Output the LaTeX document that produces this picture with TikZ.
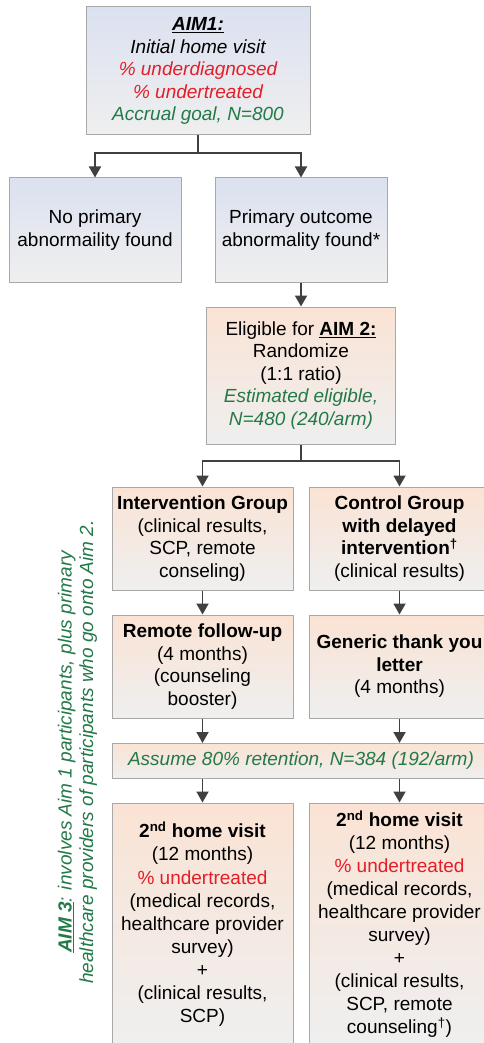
\documentclass[tikz,border=0pt]{standalone}
\usepackage{fontspec}
\setmainfont{Liberation Sans}
\usepackage{xcolor}
\usetikzlibrary{arrows.meta}
\definecolor{TopBlue}{RGB}{219, 225, 240}
\definecolor{TopPeach}{RGB}{250, 227, 212}
\definecolor{BotGrey}{RGB}{239, 239, 239}
\definecolor{EdgeGrey}{RGB}{168, 168, 168}
\definecolor{ArrowGrey}{RGB}{64, 64, 64}
\definecolor{AimGreen}{RGB}{35, 122, 72}
\definecolor{AimRed}{RGB}{228, 30, 40}

\begin{document}
\begin{tikzpicture}[x=1pt, y=-1pt, font=\fontsize{19}{22.5}\selectfont, box/.style={draw=EdgeGrey, line width=1pt, align=center, inner sep=2pt, top color=TopBlue, bottom color=BotGrey},
  armbox/.style={box, top color=TopPeach, minimum width=181pt}, ar/.style={-{Triangle[length=11pt, width=12pt]}, ArrowGrey, line width=1.8pt},
  note/.style={text=AimGreen, font=\fontsize{19}{21.5}\selectfont\itshape, align=center}]
\useasboundingbox (0,0) rectangle (484,1043);
\fill[white] (0,0) rectangle (484,1043);
\clip (0,0) rectangle (484,1043);
\node[box, minimum width=224pt, minimum height=128pt, font=\fontsize{19}{22.5}\selectfont\itshape] (aim1) at (198,71) {\textbf{\underline{AIM1:}}\\Initial home visit\\\textcolor{AimRed}{\% underdiagnosed}\\\textcolor{AimRed}{\% undertreated}\\\textcolor{AimGreen}{Accrual goal, N=800}};
\node[box, minimum width=172pt, minimum height=104pt] (none) at (95,230) {No primary\\abnormaility found};
\node[box, minimum width=172pt, minimum height=104pt] (found) at (301,230) {Primary outcome\\abnormality found*};
\node[armbox, minimum width=189pt, minimum height=137pt] (elig) at (301,375.5) {Eligible for \textbf{\underline{AIM 2:}}\\Randomize\\(1:1 ratio)\\\textcolor{AimGreen}{\itshape Estimated eligible,}\\\textcolor{AimGreen}{\itshape N=480 (240/arm)}};
\node[armbox, minimum height=103pt] (interv) at (202.5,538.5) {\textbf{Intervention Group}\\(clinical results,\\SCP, remote\\conseling)};
\node[armbox, minimum height=103pt] (control) at (399.5,538.5) {\textbf{Control Group}\\\textbf{with delayed}\\\textbf{intervention}\textsuperscript{\textbf{\dag}}\\(clinical results)};
\node[armbox, minimum height=103pt] (remote) at (202.5,666.5) {\textbf{Remote follow-up}\\(4 months)\\(counseling\\booster)};
\node[armbox, minimum height=103pt] (thanks) at (399.5,666.5) {\textbf{Generic thank you}\\\textbf{letter}\\(4 months)};
\node[armbox, minimum width=378pt, minimum height=35pt] (retain) at (301,761) {\textcolor{AimGreen}{\itshape Assume 80\% retention, N=384 (192/arm)}};
\node[armbox, minimum height=242pt, font=\fontsize{19}{23}\selectfont] (visit1) at (202.5,924) {\textbf{2\textsuperscript{nd} home visit}\\(12 months)\\\textcolor{AimRed}{\% undertreated}\\(medical records,\\healthcare provider\\survey)\\+\\(clinical results,\\SCP)};
\node[armbox, minimum height=242pt, font=\fontsize{19}{23}\selectfont] (visit2) at (399.5,924) {\textbf{2\textsuperscript{nd} home visit}\\(12 months)\\\textcolor{AimRed}{\% undertreated}\\(medical records,\\healthcare provider\\survey)\\+\\(clinical results,\\SCP, remote\\counseling\textsuperscript{\dag})};
\node[note, rotate=90] (aim3) at (77.5,752) {\textbf{\underline{AIM 3}}: involves Aim 1 participants, plus primary\\healthcare providers of participants who go onto Aim 2.};
\coordinate (split1) at (198,153);
\coordinate (split2) at (301,461);
\draw[ArrowGrey, line width=1.8pt] (aim1.south) -- (split1);
\draw[ar] (split1) -| (none.north); \draw[ar] (split1) -| (found.north);
\draw[ar] (found.south) -- (elig.north);
\draw[ArrowGrey, line width=1.8pt] (elig.south) -- (split2);
\draw[ar] (split2) -| (interv.north); \draw[ar] (split2) -| (control.north);
\draw[ar] (interv) -- (remote); \draw[ar] (control) -- (thanks);
\draw[ar] (remote.south) -- (retain.north -| remote.south); \draw[ar] (thanks.south) -- (retain.north -| thanks.south);
\draw[ar] (retain.south -| visit1.north) -- (visit1.north); \draw[ar] (retain.south -| visit2.north) -- (visit2.north);
\end{tikzpicture}
\end{document}
